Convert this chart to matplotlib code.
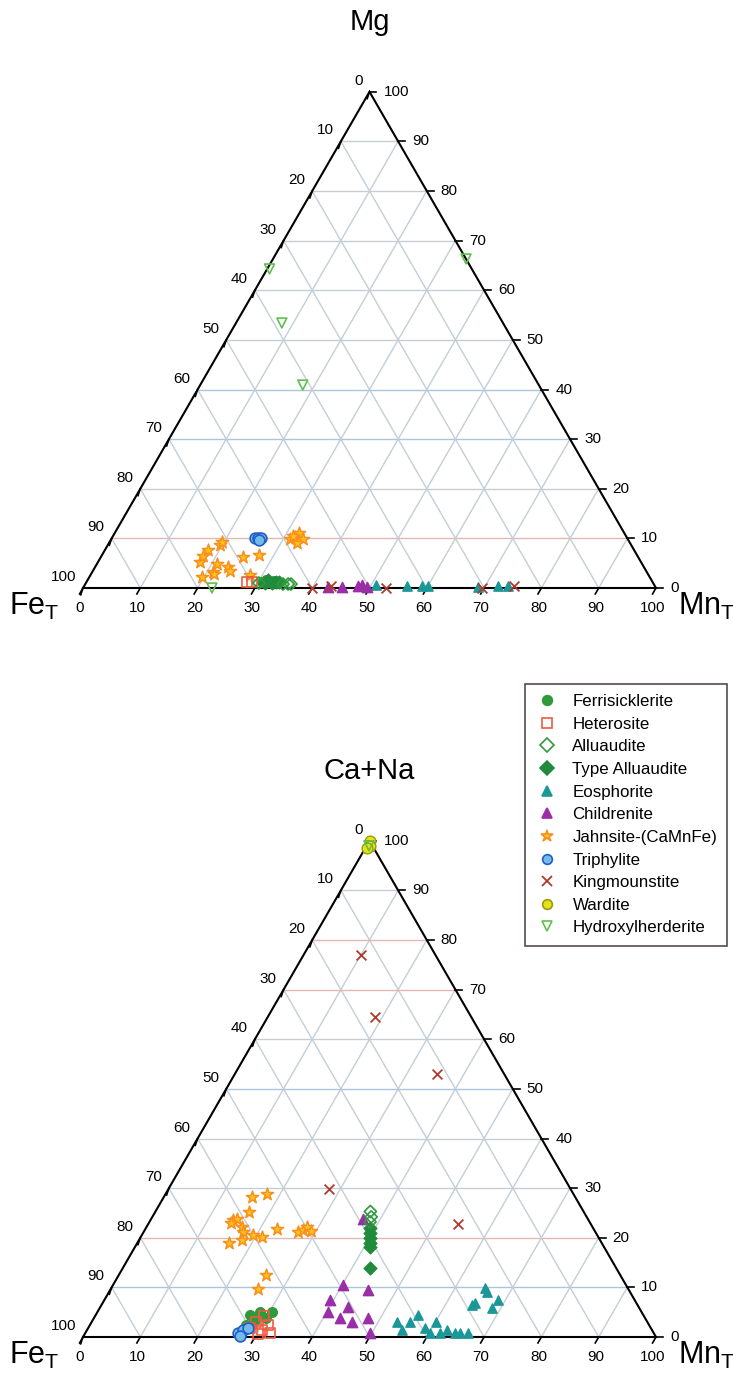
import numpy as np
import matplotlib
matplotlib.use('Agg')
import matplotlib.pyplot as plt
from matplotlib.lines import Line2D

plt.rcParams['font.family'] = ['Liberation Sans', 'DejaVu Sans']
plt.rcParams['mathtext.fontset'] = 'custom'
plt.rcParams['mathtext.rm'] = 'Liberation Sans'

# compositions in %, pairs of (Mn_T, apex component); Fe_T = 100 - Mn_T - apex
# --- Fe_T - Mn_T - Mg diagram ---
mg_ferrisicklerite = [(30.6, 1.2), (31.1, 1.6), (32.0, 1.2), (32.6, 1.4), (33.4, 1.0)]
mg_heterosite = [(28.0, 1.2), (28.9, 1.2)]
mg_alluaudite = [(30.2, 1.0), (34.5, 0.8), (35.4, 0.8), (35.9, 0.8)]
mg_type_alluaudite = [(31.3, 1.0), (31.5, 1.6), (32.5, 1.0), (33.1, 1.2), (33.6, 1.2)]
mg_eosphorite = [(50.8, 0.6), (56.3, 0.4), (59.0, 0.4), (60.0, 0.4), (68.8, 0.2),
                 (72.2, 0.4), (74.0, 0.4)]
mg_childrenite = [(42.7, 0.2), (45.1, 0.2), (47.8, 0.4), (48.4, 0.6), (49.5, 0.2)]
mg_jahnsite = [(19.7, 2.2), (17.8, 5.2), (17.7, 6.5), (18.0, 7.7), (19.6, 8.7), (19.6, 9.3),
               (21.0, 4.8), (21.1, 3.2), (21.5, 2.8), (23.2, 4.2), (24.0, 3.4), (24.8, 6.3),
               (27.4, 6.7), (27.8, 2.6), (31.9, 10.3), (31.2, 9.9), (32.1, 11.1), (33.5, 9.9),
               (32.8, 9.1), (31.4, 10.5)]
mg_triphylite = [(25.0, 10.1), (25.5, 10.1), (26.0, 10.1), (25.9, 9.7)]
mg_kingmounstite = [(40.0, 0.0), (43.1, 0.4), (52.9, 0.0), (69.6, 0.0), (75.0, 0.4)]
mg_wardite = []
mg_hydroxylherderite = [(0.4, 64.3), (8.0, 53.4), (17.9, 40.9), (33.7, 66.3), (22.5, 0.0)]

# --- Fe_T - Mn_T - (Ca+Na) diagram ---
ca_ferrisicklerite = [(26.9, 4.4), (28.4, 5.1), (30.5, 5.1), (28.3, 3.4), (30.0, 3.8), (27.2, 2.4)]
ca_heterosite = [(28.2, 1.8), (28.7, 3.0), (30.5, 1.4), (31.1, 2.4), (32.2, 0.8), (29.5, 4.2),
                 (30.2, 0.6)]
ca_alluaudite = [(37.5, 25.3), (38.2, 24.2), (38.5, 23.2)]
ca_type_alluaudite = [(39.1, 22.0), (39.6, 21.0), (40.1, 20.0), (40.6, 19.0), (41.0, 18.2),
                      (43.1, 13.9)]
ca_eosphorite = [(53.3, 3.0), (55.0, 1.4), (55.6, 3.0), (56.3, 4.4), (58.8, 1.8), (60.2, 0.8),
                 (60.1, 3.0), (61.9, 0.8), (62.8, 1.4), (64.5, 0.8), (65.4, 0.8), (66.8, 0.8),
                 (64.7, 6.5), (65.0, 6.9), (65.2, 9.9), (66.0, 9.1), (68.4, 5.9), (68.7, 7.5)]
ca_childrenite = [(37.0, 23.8), (40.2, 10.5), (45.0, 9.5), (39.4, 7.5), (43.2, 6.1), (40.2, 5.1),
                  (43.0, 3.8), (45.4, 3.0), (47.8, 3.8), (49.7, 0.8)]
ca_jahnsite = [(15.3, 28.3), (17.7, 28.9), (16.4, 25.1), (14.4, 23.6), (15.0, 23.8), (14.3, 23.0),
               (16.6, 22.2), (17.3, 21.2), (19.4, 20.6), (21.1, 20.2), (16.0, 19.0), (17.9, 19.6),
               (23.0, 21.8), (26.9, 21.2), (27.6, 21.6), (28.0, 22.2), (29.1, 21.4), (25.6, 12.5),
               (25.7, 9.7)]
ca_triphylite = [(26.7, 0.8), (27.2, 1.4), (27.9, 1.8), (27.3, 0.2)]
ca_kingmounstite = [(10.0, 77.0), (18.8, 64.4), (35.3, 52.9), (28.0, 29.9), (54.0, 22.8)]
ca_wardite = [(0.0, 100.0), (0.5, 99.0), (0.3, 98.6)]
ca_hydroxylherderite = [(0.4, 99.0)]

names = ['Ferrisicklerite', 'Heterosite', 'Alluaudite', 'Type Alluaudite', 'Eosphorite',
         'Childrenite', 'Jahnsite-(CaMnFe)', 'Triphylite', 'Kingmounstite', 'Wardite',
         'Hydroxylherderite']
mg_series = [mg_ferrisicklerite, mg_heterosite, mg_alluaudite, mg_type_alluaudite, mg_eosphorite,
             mg_childrenite, mg_jahnsite, mg_triphylite, mg_kingmounstite, mg_wardite,
             mg_hydroxylherderite]
ca_series = [ca_ferrisicklerite, ca_heterosite, ca_alluaudite, ca_type_alluaudite, ca_eosphorite,
             ca_childrenite, ca_jahnsite, ca_triphylite, ca_kingmounstite, ca_wardite,
             ca_hydroxylherderite]
ticks = list(range(0, 101, 10))

styles = {
    'Ferrisicklerite': dict(marker='o', s=48, facecolors='#2f9a3c', edgecolors='#2f9a3c'),
    'Heterosite': dict(marker='s', s=48, facecolors='none', edgecolors='#ef5b3f', linewidths=1.2),
    'Alluaudite': dict(marker='D', s=38, facecolors='none', edgecolors='#2f9a3c', linewidths=1.2),
    'Type Alluaudite': dict(marker='D', s=42, facecolors='#1f8b3b', edgecolors='#1f8b3b'),
    'Eosphorite': dict(marker='^', s=45, facecolors='#1b9797', edgecolors='#1b9797'),
    'Childrenite': dict(marker='^', s=55, facecolors='#9a2ea6', edgecolors='#9a2ea6'),
    'Jahnsite-(CaMnFe)': dict(marker='*', s=85, facecolors='#ffc21c', edgecolors='#f7901e', linewidths=1.1),
    'Triphylite': dict(marker='o', s=60, facecolors='#74b9ea', edgecolors='#1f5fc8', linewidths=1.2),
    'Kingmounstite': dict(marker='x', s=50, c='#b23a2c', linewidths=1.3),
    'Wardite': dict(marker='o', s=60, facecolors='#e6e21a', edgecolors='#9a9a10', linewidths=1.0),
    'Hydroxylherderite': dict(marker='v', s=50, facecolors='none', edgecolors='#5cc24b', linewidths=1.2),
}
draw_order = ['Eosphorite', 'Childrenite', 'Kingmounstite', 'Jahnsite-(CaMnFe)', 'Wardite',
              'Hydroxylherderite', 'Ferrisicklerite', 'Heterosite', 'Type Alluaudite',
              'Alluaudite', 'Triphylite']

H = np.sqrt(3) / 2
SIDE = 573.0  # px of a triangle side
GRID = '#c4ced7'


def tern(mn, top):
    mn = np.asarray(mn) / 100.0
    top = np.asarray(top) / 100.0
    return mn + 0.5 * top, top * H


def draw_triangle(ax, title, hcolors):
    # grid
    for i, k in enumerate(range(10, 100, 10)):
        t = k / 100.0
        ax.plot([0.5 * t, 1 - 0.5 * t], [t * H, t * H], color=hcolors[i], lw=1.0, zorder=1)
        ax.plot([t, t + 0.5 * (1 - t)], [0, (1 - t) * H], color=GRID, lw=1.0, zorder=1)
        ax.plot([1 - t, 0.5 * (1 - t)], [0, (1 - t) * H], color=GRID, lw=1.0, zorder=1)
    ax.plot([0, 1, 0.5, 0], [0, 0, H, 0], color='black', lw=1.5, zorder=2,
            solid_joinstyle='miter')

    tl = 0.012
    for v in ticks:
        f = v / 100.0
        # left edge: Fe_T
        p = (0.5 * (1 - f), (1 - f) * H)
        ax.plot([p[0], p[0] - 0.004], [p[1], p[1] - tl], color='black', lw=1.2, zorder=2)
        ax.annotate(str(v), p, xytext=(-7, 11), textcoords='offset pixels',
                    ha='right', va='center', fontsize=11)
        # right edge: apex component
        p = (1 - 0.5 * f, f * H)
        ax.plot([p[0], p[0] + tl], [p[1], p[1]], color='black', lw=1.2, zorder=2)
        ax.annotate(str(v), p, xytext=(14, 0), textcoords='offset pixels',
                    ha='left', va='center', fontsize=11)
        # bottom edge: Mn_T
        p = (f, 0)
        ax.plot([p[0], p[0] - 0.5 * tl], [0, -H * tl], color='black', lw=1.2, zorder=2)
        ax.annotate(str(v), p, xytext=(-3, -20), textcoords='offset pixels',
                    ha='center', va='center', fontsize=11)

    ax.text(0.5, 0.988, title, ha='center', va='center', fontsize=21)
    ax.text(-0.085, -0.033, r'Fe$_\mathrm{T}$', ha='center', va='center', fontsize=22)
    ax.text(1.088, -0.033, r'Mn$_\mathrm{T}$', ha='center', va='center', fontsize=22)


def place_axes(fig, rect, base_px, top_px, bottom_px):
    ax = fig.add_axes(rect)
    ax.set_xlim(-83 / SIDE, 650 / SIDE)
    ax.set_ylim(-(bottom_px - base_px) / SIDE, (base_px - top_px) / SIDE)
    ax.axis('off')
    return ax


fig = plt.figure(figsize=(7.33, 13.78), dpi=100)
half = 689.0 / 1378.0
ax_mg = place_axes(fig, [0, half, 1, half], 588, 0, 689)
ax_ca = place_axes(fig, [0, 0, 1, half], 1337, 689, 1378)

pink = '#e2b8b2'
blue = '#aac6de'
draw_triangle(ax_mg, 'Mg', [pink, GRID, blue, blue, GRID, GRID, GRID, GRID, GRID])
draw_triangle(ax_ca, 'Ca+Na', [blue, pink, GRID, GRID, blue, GRID, pink, pink, GRID])

for ax, series in [(ax_mg, mg_series), (ax_ca, ca_series)]:
    lookup = dict(zip(names, series))
    for nm in draw_order:
        pts = lookup[nm]
        if not pts:
            continue
        mn, top = zip(*pts)
        x, y = tern(mn, top)
        ax.scatter(x, y, zorder=3, clip_on=False, **styles[nm])

handles = []
for nm in names:
    st = styles[nm]
    fc = st.get('facecolors', st.get('c'))
    ec = st.get('edgecolors', st.get('c'))
    ms = 7 if st['marker'] != '*' else 9
    if st['marker'] == 'x':
        h = Line2D([], [], ls='none', marker='x', color=ec, markersize=7, markeredgewidth=1.3)
    else:
        h = Line2D([], [], ls='none', marker=st['marker'], markersize=ms,
                   markerfacecolor=fc, markeredgecolor=ec, markeredgewidth=1.2)
    handles.append(h)

leg = fig.legend(handles, names, loc='upper left', bbox_to_anchor=(525 / 733, 1 - 684 / 1378),
                 frameon=True, fancybox=False, edgecolor='#2b1d1d', fontsize=12.2,
                 borderpad=0.6, handlelength=1.4, handletextpad=0.8, labelspacing=0.45,
                 borderaxespad=0)
leg.get_frame().set_linewidth(1.2)

fig.savefig('out.png', dpi=100, facecolor='white')
